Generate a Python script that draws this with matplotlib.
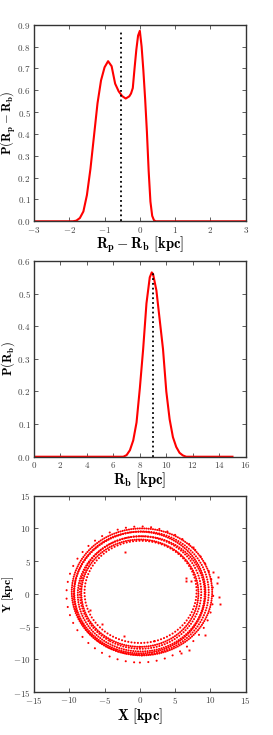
import numpy as np
import matplotlib
matplotlib.use("Agg")
import matplotlib.pyplot as plt
from matplotlib.patches import Ellipse

plt.rcParams["font.family"] = ["cmr10"]
plt.rcParams["mathtext.fontset"] = "cm"
plt.rcParams["axes.formatter.use_mathtext"] = True

# panel 1: P(Rp - Rb)
dr_x = [-3.0, -2.5, -2.0, -1.9, -1.8, -1.7, -1.6, -1.5, -1.4, -1.3, -1.2, -1.1,
        -1.0, -0.9, -0.8, -0.7, -0.6, -0.5, -0.4, -0.3, -0.25, -0.2, -0.15,
        -0.1, -0.05, 0.0, 0.05, 0.1, 0.15, 0.2, 0.25, 0.3, 0.35, 0.4, 0.45,
        0.5, 1.0, 2.0, 3.0]
dr_p = [0.0, 0.0, 0.0, 0.0, 0.003, 0.015, 0.045, 0.12, 0.24, 0.39, 0.54, 0.645,
        0.705, 0.733, 0.71, 0.63, 0.595, 0.573, 0.562, 0.572, 0.585, 0.61, 0.70,
        0.785, 0.85, 0.872, 0.80, 0.69, 0.56, 0.41, 0.23, 0.09, 0.025, 0.005, 0.0,
        0.0, 0.0, 0.0, 0.0]
dr_mark = -0.54
dr_mark_top = 0.868

# panel 2: P(Rb)
rb_x = [0.0, 2.0, 4.0, 6.0, 6.75, 7.0, 7.25, 7.5, 7.75, 8.0, 8.25, 8.5, 8.75,
        8.9, 9.0, 9.25, 9.5, 9.75, 10.0, 10.25, 10.5, 10.75, 11.0, 11.25, 11.5,
        12.0, 13.0, 14.0, 15.0]
rb_p = [0.0, 0.0, 0.0, 0.0, 0.0, 0.005, 0.02, 0.05, 0.105, 0.21, 0.33, 0.47,
        0.55, 0.565, 0.56, 0.51, 0.42, 0.33, 0.20, 0.115, 0.06, 0.03, 0.012,
        0.004, 0.0, 0.0, 0.0, 0.0, 0.0]
rb_mark = 9.0
rb_mark_top = 0.562

# panel 3: orbit rings (center x, center y, full width, full height, angle)
ring_cx = [0.0, 0.3, 0.2, 0.0, 0.2, 0.1, 0.0, 0.1]
ring_cy = [-0.1, 0.3, 0.1, 0.2, 0.0, 0.2, 0.1, 0.3]
ring_w = [20.8, 19.9, 19.2, 18.6, 18.0, 17.2, 16.6, 15.9]
ring_h = [20.8, 19.4, 18.8, 18.6, 17.6, 17.2, 16.4, 15.6]
ring_ang = [0, 0, 25, -20, 10, -30, 0, 15]
ring_gap = [4.0, 1.0, 1.2, 1.0, 1.1, 1.3, 1.0, 1.5]

stray_x = [10.4, 11.1, 11.0, 11.2, 11.4, 9.3, 6.9, 5.8, -2.2, -5.3, -2.1, 7.6,
           6.5, 6.6, 7.3, -7.1]
stray_y = [3.4, 2.6, 1.6, -0.5, -1.6, -6.3, -8.6, -9.1, -6.5, -4.6, 6.4, 7.2,
           2.4, 2.0, 1.9, -2.5]

fig = plt.figure(figsize=(2.73, 7.35), dpi=100)
ax1 = fig.add_axes([0.1245, 0.6989, 0.7755, 0.2675])
ax2 = fig.add_axes([0.1245, 0.3786, 0.7755, 0.2663])
ax3 = fig.add_axes([0.1245, 0.0585, 0.7755, 0.2671])

ax1.plot(dr_x, dr_p, color="red", lw=1.5)
ax1.plot([dr_mark, dr_mark], [0, dr_mark_top], color="black", ls=":", lw=1.3)
ax1.set_xlim(-3, 3)
ax1.set_ylim(0, 0.9)
ax1.set_xticks(range(-3, 4))
ax1.set_yticks(np.arange(0, 0.91, 0.1))
ax1.set_xlabel(r"$\mathbf{R_p - R_b\ [kpc]}$", fontsize=10.5, labelpad=0)
ax1.set_ylabel(r"$\mathbf{P(R_p - R_b)}$", fontsize=9)
ax1.yaxis.set_label_coords(-0.075, 0.5)

ax2.plot(rb_x, rb_p, color="red", lw=1.5)
ax2.plot([rb_mark, rb_mark], [0, rb_mark_top], color="black", ls=":", lw=1.3)
ax2.set_xlim(0, 16)
ax2.set_ylim(0, 0.6)
ax2.set_xticks(range(0, 17, 2))
ax2.set_yticks(np.arange(0, 0.61, 0.1))
ax2.set_xlabel(r"$\mathbf{R_b\ [kpc]}$", fontsize=10.5, labelpad=0)
ax2.set_ylabel(r"$\mathbf{P(R_b)}$", fontsize=9)
ax2.yaxis.set_label_coords(-0.08, 0.5)

for cx, cy, w, h, a, gap in zip(ring_cx, ring_cy, ring_w, ring_h,
                                ring_ang, ring_gap):
    ax3.add_patch(Ellipse((cx, cy), w, h, angle=a, fill=False, edgecolor="red",
                          lw=1.5, linestyle=(0, (0.05, gap)), capstyle="round"))
ax3.plot(stray_x, stray_y, "s", color="red", ms=1.4, mew=0)
ax3.set_xlim(-15, 15)
ax3.set_ylim(-15, 15)
ax3.set_xticks(range(-15, 16, 5))
ax3.set_yticks(range(-15, 16, 5))
ax3.set_xlabel(r"$\mathbf{X\ [kpc]}$", fontsize=10.5, labelpad=0)
ax3.set_ylabel(r"$\mathbf{Y\ [kpc]}$", fontsize=8.5)
ax3.yaxis.set_label_coords(-0.087, 0.5)

for ax in (ax1, ax2, ax3):
    ax.tick_params(direction="in", top=True, right=True, labelsize=6.5, pad=2.5,
                   labelcolor="#444444", color="#444444", length=3, width=0.6)
    for s in ax.spines.values():
        s.set_color("#333333")
        s.set_linewidth(1.0)

fig.savefig("out.png", dpi=100)
